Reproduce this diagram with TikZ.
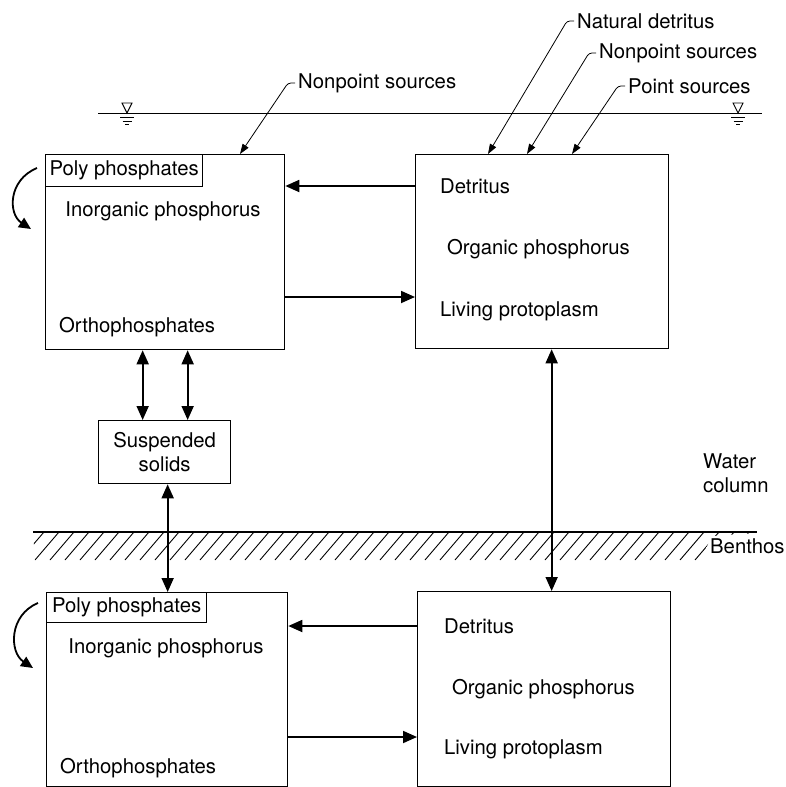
\documentclass[tikz,border=0pt]{standalone}
\usepackage{fontspec}
\setmainfont{TeX Gyre Heros}
\usetikzlibrary{arrows.meta}
\tikzset{
  box/.style={draw, line width=1.3pt, rectangle, inner sep=0pt, anchor=north west},
  lbl/.style={inner sep=0pt, font=\fontsize{20.3}{23.5}\selectfont},
  arr/.style={line width=1.8pt, -{Triangle[length=14pt,width=12pt]}},
  darr/.style={line width=1.8pt, {Triangle[length=14pt,width=12pt]}-{Triangle[length=14pt,width=12pt]}},
  leader/.style={line width=0.8pt, rounded corners=3pt, -{Triangle[length=10pt,width=7pt]}},
  curv/.style={line width=1.8pt, -{Triangle[length=12pt,width=11pt]}},
  hatchline/.style={line width=0.9pt},
}
\begin{document}
\begin{tikzpicture}[x=1pt,y=-1pt]
\useasboundingbox (0,0) rectangle (785,787);

% water surface
\draw[line width=1pt] (98,113) -- (762,113);
\foreach \wx in {127,738}{
  \draw[line width=0.9pt] (\wx-5,103) -- (\wx+5,103) -- (\wx,113) -- cycle;
  \draw[line width=0.9pt] (\wx-7,117) -- (\wx+7,117);
  \draw[line width=0.9pt] (\wx-4.5,121) -- (\wx+4.5,121);
  \draw[line width=0.9pt] (\wx-2,124.5) -- (\wx+2,124.5);
}

% sediment boundary
\draw[line width=2pt] (33,532) -- (757,532);
\begin{scope}
  \clip (33,533) -- (757,533) -- (712,536) -- (704,552) -- (698,560) -- (35,560) -- cycle;
  \foreach \i in {-2,...,50}{
    \draw[hatchline] (35+\i*15,560) -- ++(24,-28);
  }
\end{scope}

% boxes
\node[box, minimum width=239pt, minimum height=195pt] (TL) at (45,154) {};
\node[box, minimum width=157pt, minimum height=32pt, lbl] (TLp) at (45,154) {Poly phosphates};
\node[box, minimum width=253pt, minimum height=194pt] (TR) at (415,154) {};
\node[box, minimum width=132pt, minimum height=63pt, lbl, align=center] (SS) at (98,420) {Suspended\\solids};
\node[box, minimum width=241pt, minimum height=194pt] (BL) at (46,592) {};
\node[box, minimum width=160pt, minimum height=30pt, lbl] (BLp) at (46,592) {Poly phosphates};
\node[box, minimum width=253pt, minimum height=195pt] (BR) at (417,591) {};

% texts
\node[lbl] (TLi) at (163,211) {Inorganic phosphorus};
\node[lbl, anchor=west] (TLo) at (59,327) {Orthophosphates};
\node[lbl, anchor=west] (TRd) at (440,186) {Detritus};
\node[lbl, anchor=west] (TRo) at (447,249) {Organic phosphorus};
\node[lbl, anchor=west] (TRl) at (440,311) {Living protoplasm};

\node[lbl] (BLi) at (166,648) {Inorganic phosphorus};
\node[lbl, anchor=west] (BLo) at (60,768) {Orthophosphates};
\node[lbl, anchor=west] (BRd) at (444,626) {Detritus};
\node[lbl, anchor=west] (BRo) at (452,689) {Organic phosphorus};
\node[lbl, anchor=west] (BRl) at (444,749) {Living protoplasm};

\node[lbl, anchor=west, align=left] (WC) at (703,473) {Water\\column};
\node[lbl, anchor=west] (BE) at (710,546) {Benthos};

\node[lbl, anchor=west] (NP1) at (298,83) {Nonpoint sources};
\node[lbl, anchor=west] (ND) at (577,21) {Natural detritus};
\node[lbl, anchor=west] (NP2) at (599,53) {Nonpoint sources};
\node[lbl, anchor=west] (PS) at (628,86) {Point sources};

% leaders
\coordinate (t1) at ([xshift=195pt]TL.north west);
\coordinate (t2) at ([xshift=73pt]TR.north west);
\coordinate (t3) at ([xshift=112pt]TR.north west);
\coordinate (t4) at ([xshift=157pt]TR.north west);
\draw[leader] ([xshift=-3pt]NP1.west) -- ++(-7,0) -- (t1);
\draw[leader] ([xshift=-3pt]ND.west) -- ++(-7,0) -- (t2);
\draw[leader] ([xshift=-3pt]NP2.west) -- ++(-7,0) -- (t3);
\draw[leader] ([xshift=-3pt]PS.west) -- ++(-7,0) -- (t4);

% horizontal exchange arrows
\draw[arr] (TR.west |- TRd) -- (TL.east |- TRd);
\coordinate (a2) at ([yshift=-143pt]TL.north east);
\draw[arr] (a2) -- (a2 -| TR.west);
\coordinate (b1) at ([yshift=-35pt]BR.north west);
\draw[arr] (b1) -- (b1 -| BL.east);
\coordinate (b2) at ([yshift=-145pt]BL.north east);
\draw[arr] (b2) -- (b2 -| BR.west);

% vertical double arrows
\coordinate (s1) at ([xshift=-22pt]SS.north);
\coordinate (s2) at ([xshift=23pt]SS.north);
\draw[darr] (s1) -- (s1 |- TL.south);
\draw[darr] (s2) -- (s2 |- TL.south);
\coordinate (s3) at ([xshift=3pt]SS.south);
\draw[darr] (s3) -- (s3 |- BL.north);
\coordinate (r1) at ([xshift=9.5pt]TR.south);
\draw[darr] (r1) -- (r1 |- BR.north);

% curved arrows
\draw[curv] ([xshift=-8pt,yshift=-14pt]TLp.north west) .. controls (8,180) and (8,214) .. (31,229);
\draw[curv] ([xshift=-8pt,yshift=-11pt]BLp.north west) .. controls (9,615) and (9,652) .. (33,668);
\end{tikzpicture}
\end{document}
